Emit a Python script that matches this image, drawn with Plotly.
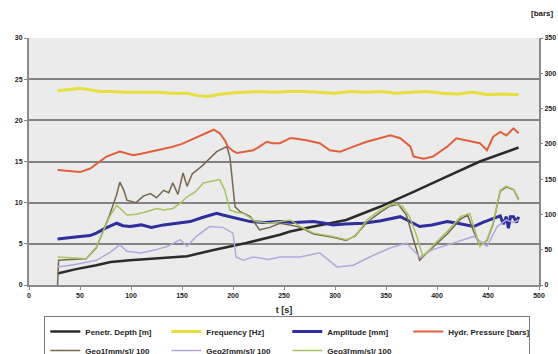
import plotly.graph_objects as go

# ---- data ----
depth_t = [28, 45, 66, 80, 99, 132, 155, 181, 213, 246, 256, 279, 311, 344, 377, 410, 442, 480]
depth_v = [1.4, 1.9, 2.4, 2.8, 3.0, 3.25, 3.5, 4.25, 5.1, 6.1, 6.5, 7.1, 7.9, 9.5, 11.3, 13.2, 15.0, 16.7]

freq_t = [28, 40, 50, 60, 70, 80, 95, 110, 125, 140, 155, 165, 175, 185, 195, 210, 225, 240, 255,
          270, 285, 300, 315, 330, 345, 360, 375, 390, 405, 420, 435, 450, 465, 480]
freq_v = [23.6, 23.8, 23.9, 23.7, 23.5, 23.5, 23.4, 23.4, 23.4, 23.3, 23.3, 23.0, 22.9, 23.1, 23.3,
          23.4, 23.5, 23.4, 23.5, 23.5, 23.4, 23.3, 23.5, 23.4, 23.5, 23.3, 23.4, 23.5, 23.3, 23.2,
          23.4, 23.1, 23.2, 23.1]

amp_t = [28, 40, 50, 60, 66, 75, 86, 92, 99, 110, 120, 132, 145, 158, 170, 184, 190, 197, 207, 217,
         230, 246, 260, 279, 290, 298, 310, 328, 345, 364, 372, 383, 395, 410, 420, 436, 445, 459,
         462, 465, 468, 470, 472, 475, 478, 480]
amp_v = [5.6, 5.8, 5.9, 6.0, 6.3, 6.9, 7.5, 7.2, 7.1, 7.3, 7.0, 7.3, 7.5, 7.7, 8.2, 8.7, 8.5, 8.3,
         8.0, 7.7, 7.6, 7.7, 7.6, 7.7, 7.5, 7.3, 7.4, 7.5, 7.8, 8.3, 7.8, 7.1, 7.3, 7.7, 7.5, 7.1,
         7.6, 8.3, 8.4, 7.4, 8.3, 6.9, 8.3, 8.3, 7.6, 8.3]

press_t = [28, 40, 50, 60, 68, 76, 89, 102, 110, 119, 130, 141, 150, 158, 166, 174, 181, 187, 192,
           195, 200, 204, 213, 220, 226, 233, 239, 246, 256, 259, 272, 285, 295, 305, 318, 331,
           344, 354, 364, 374, 377, 387, 396, 410, 419, 429, 442, 449, 455, 462, 468, 475, 480]
press_v = [163, 161, 160, 165, 173, 182, 189, 184, 186, 189, 192, 196, 200, 205, 210, 215, 220,
           215, 205, 196, 190, 187, 189, 191, 196, 203, 201, 201, 208, 208, 205, 201, 191, 189,
           196, 203, 208, 212, 208, 196, 182, 179, 182, 196, 208, 205, 201, 191, 210, 217, 212,
           222, 215]

geo1_t = [28, 29, 40, 56, 66, 79, 86, 89, 93, 96, 105, 112, 119, 125, 132, 137, 141, 146, 151, 155,
          160, 170, 184, 190, 194, 197, 199, 202, 207, 217, 226, 236, 246, 256, 266, 279, 298, 311,
          320, 331, 344, 354, 362, 370, 377, 383, 390, 400, 410, 423, 430, 436, 442, 449, 455, 462,
          468, 475, 480]
geo1_v = [0, 3.0, 3.1, 3.2, 4.5, 8.5, 11.0, 12.5, 11.5, 10.3, 10.0, 10.8, 11.1, 10.6, 11.5, 11.2,
          12.4, 11.0, 13.6, 12.0, 13.5, 14.5, 16.2, 16.6, 16.8, 15.5, 13.2, 9.5, 8.9, 8.3, 6.7, 7.0,
          7.5, 7.3, 7.0, 6.2, 5.8, 5.4, 6.0, 7.6, 8.8, 9.6, 9.8, 8.5, 5.5, 3.0, 3.9, 5.0, 6.2, 8.0,
          8.5, 6.5, 4.8, 5.4, 7.4, 11.4, 11.9, 11.6, 10.4]

geo2_t = [28, 45, 66, 80, 89, 96, 110, 125, 136, 148, 155, 164, 177, 190, 200, 203, 210, 220, 235,
          246, 266, 285, 302, 318, 334, 354, 370, 383, 396, 416, 436, 449, 459, 468, 475, 480]
geo2_v = [2.2, 2.5, 3.0, 4.0, 4.9, 4.1, 3.9, 4.3, 4.7, 5.5, 4.7, 5.9, 7.1, 7.0, 6.3, 3.4, 3.0, 3.4,
          3.1, 3.4, 3.4, 3.9, 2.2, 2.4, 3.4, 4.5, 5.1, 3.4, 4.3, 5.1, 5.9, 4.7, 7.1, 7.9, 7.6, 7.9]

geo3_t = [28, 40, 56, 66, 79, 86, 96, 105, 115, 125, 132, 141, 148, 155, 163, 171, 180, 187, 192,
          197, 204, 210, 223, 236, 256, 266, 279, 298, 311, 320, 331, 344, 357, 366, 373, 380, 386,
          392, 400, 410, 423, 432, 442, 449, 455, 462, 468, 475, 480]
geo3_v = [3.4, 3.3, 3.2, 4.6, 8.3, 9.7, 8.5, 8.6, 8.9, 9.3, 9.1, 9.3, 9.9, 10.7, 11.3, 12.4, 12.6,
          12.8, 11.5, 9.1, 8.8, 8.7, 7.7, 7.5, 7.9, 7.1, 6.3, 5.9, 5.5, 5.9, 7.9, 9.1, 9.9, 9.6, 8.3,
          6.0, 3.5, 4.2, 5.3, 6.5, 8.3, 8.7, 4.7, 5.5, 7.5, 11.5, 12.0, 11.6, 10.3]

x_ticks = [0, 50, 100, 150, 200, 250, 300, 350, 400, 450, 500]

FONT = "Liberation Sans, Arial, sans-serif"

fig = go.Figure()
fig.add_trace(go.Scatter(x=depth_t, y=depth_v, name="Penetr. Depth [m]", mode="lines",
                         line=dict(color="#2b2b2b", width=2.5)))
fig.add_trace(go.Scatter(x=freq_t, y=freq_v, name="Frequency [Hz]", mode="lines",
                         line=dict(color="#e6df3c", width=3)))
fig.add_trace(go.Scatter(x=amp_t, y=amp_v, name="Amplitude [mm]", mode="lines",
                         line=dict(color="#2e2e9c", width=3)))
fig.add_trace(go.Scatter(x=press_t, y=press_v, name="Hydr. Pressure [bars]", mode="lines",
                         line=dict(color="#e0603e", width=2), yaxis="y2"))
fig.add_trace(go.Scatter(x=geo1_t, y=geo1_v, name="Geo1[mm/s]/ 100", mode="lines",
                         line=dict(color="#76684e", width=1.5)))
fig.add_trace(go.Scatter(x=geo2_t, y=geo2_v, name="Geo2[mm/s]/ 100", mode="lines",
                         line=dict(color="#b6a8dc", width=1.5)))
fig.add_trace(go.Scatter(x=geo3_t, y=geo3_v, name="Geo3[mm/s]/ 100", mode="lines",
                         line=dict(color="#a9c262", width=1.5)))

fig.update_layout(
    width=558, height=354,
    margin=dict(l=29, r=19, t=38, b=69, autoexpand=False),
    paper_bgcolor="white", plot_bgcolor="#ebebeb",
    font=dict(family=FONT, size=7, color="#222", weight="bold"),
    xaxis=dict(range=[0, 500], tickvals=x_ticks, showgrid=False, zeroline=False,
               showline=True, linecolor="#8a8a8a", linewidth=2,
               ticks="outside", ticklen=3, tickcolor="#8a8a8a",
               title=dict(text="t [s]", standoff=8, font=dict(size=9, weight="bold"))),
    yaxis=dict(range=[0, 30], dtick=5, showgrid=True, gridcolor="#828282", gridwidth=2,
               zeroline=False, showline=True, linecolor="#8a8a8a", linewidth=2,
               ticks="outside", ticklen=3, tickcolor="#8a8a8a"),
    yaxis2=dict(range=[0, 350], dtick=50, overlaying="y", side="right", showgrid=False,
                zeroline=False, showline=True, linecolor="#8a8a8a", linewidth=2,
                ticks="outside", ticklen=2, tickcolor="#8a8a8a"),
    legend=dict(orientation="h", x=0.03, y=-0.125, xanchor="left", yanchor="top",
                bgcolor="white", bordercolor="#7a7a7a", borderwidth=1,
                entrywidth=76, entrywidthmode="pixels", tracegroupgap=0,
                font=dict(size=8, weight="bold"), itemwidth=30),
    showlegend=True,
)
fig.add_annotation(text="[bars]", xref="paper", yref="paper", x=1.0, y=1.0,
                   xanchor="right", yanchor="bottom", yshift=18, xshift=17, showarrow=False,
                   font=dict(size=8, weight="bold"))

fig.write_html("out.html", config={"displayModeBar": False},
               post_script="document.body.style.margin='0';document.body.style.overflow='hidden';")
